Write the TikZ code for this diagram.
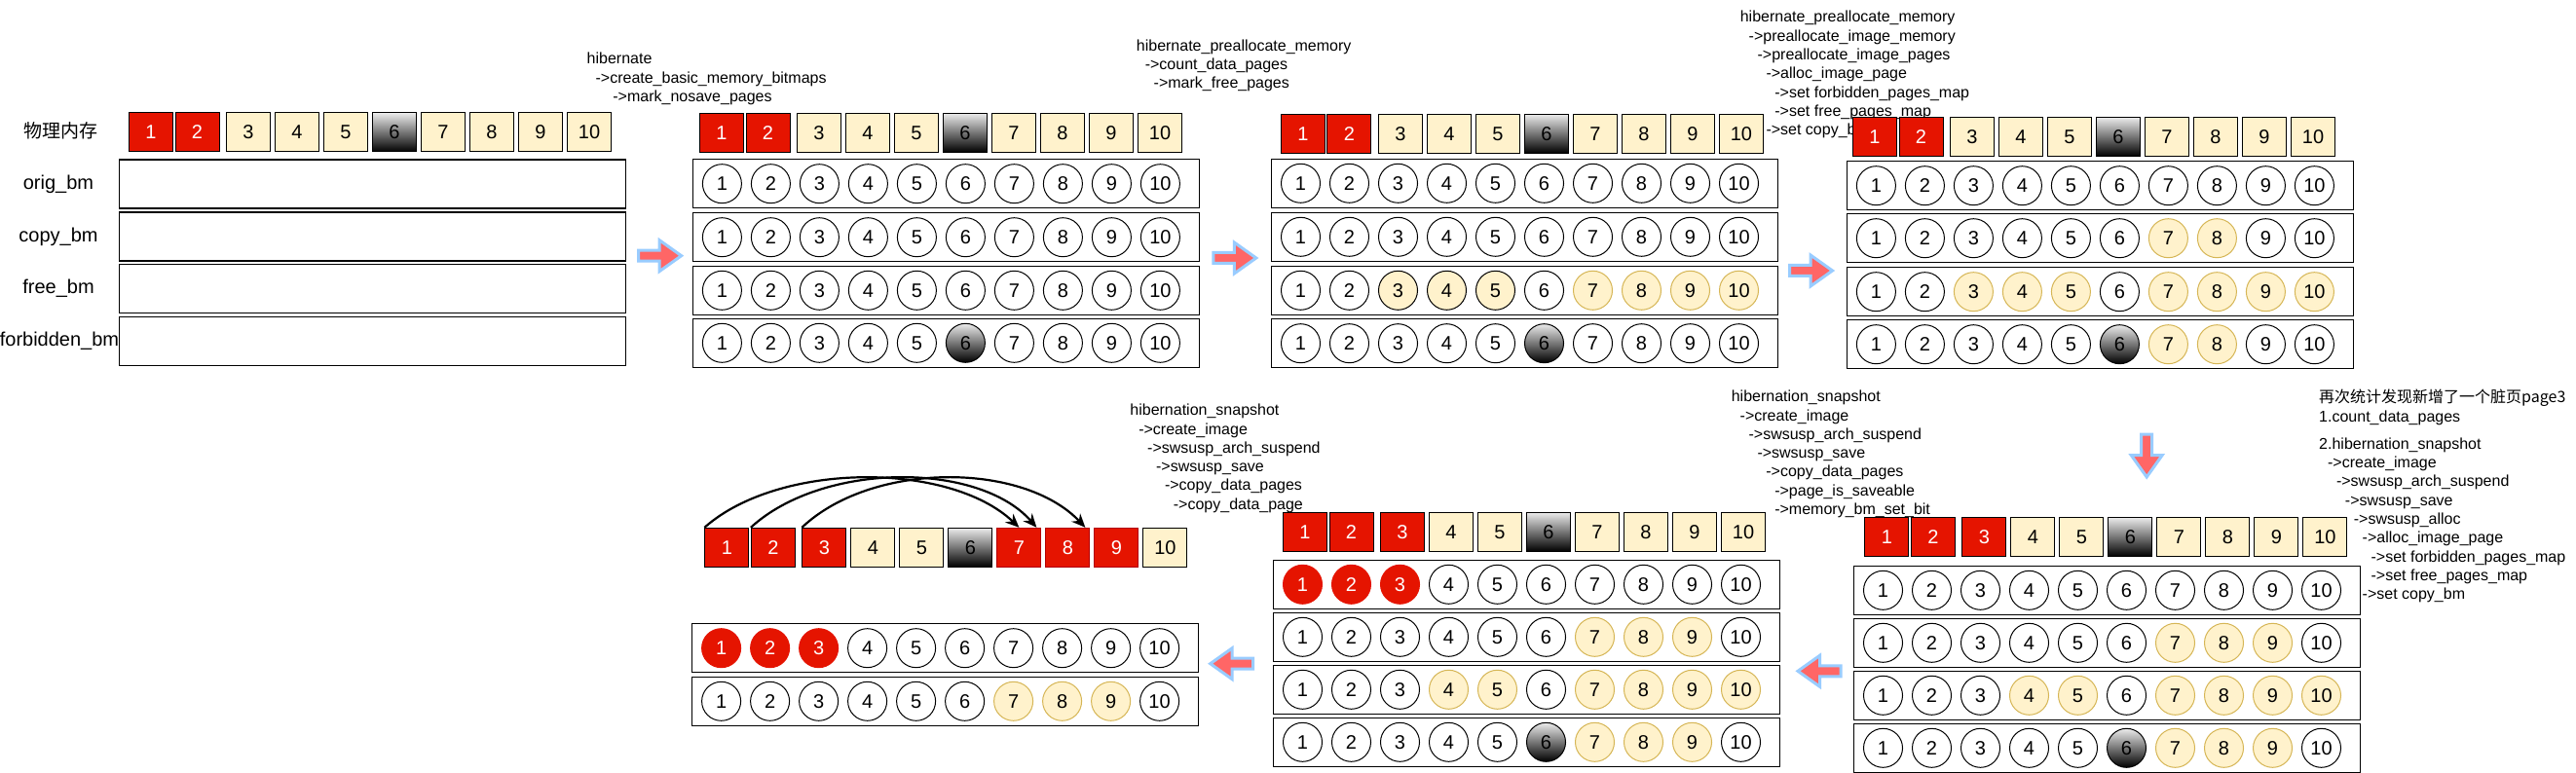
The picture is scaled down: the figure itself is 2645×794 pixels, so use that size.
\documentclass[tikz,border=0pt]{standalone}
\usepackage{fontspec}
\setmainfont{Liberation Sans}
\newfontfamily\cjk{Noto Sans CJK SC}
\usetikzlibrary{arrows.meta}

\definecolor{pagered}{HTML}{E51400}
\definecolor{pagereddark}{HTML}{B20000}
\definecolor{pageyellow}{HTML}{FFF2CC}
\definecolor{pagegold}{HTML}{D6B656}
\definecolor{flowfill}{HTML}{FF6666}
\definecolor{flowline}{HTML}{99CCFF}

\tikzset{
  big/.style={font=\fontsize{20}{24}\selectfont},
  fn/.style={font=\fontsize{16}{19.3}\selectfont, align=left, anchor=north west, inner sep=0pt},
  mem/.style={draw, line width=1pt, minimum width=45pt, minimum height=40pt, inner sep=0pt, big},
  mem-y/.style={mem, fill=pageyellow},
  mem-r/.style={mem, fill=pagered, text=white},
  mem-R/.style={mem, fill=pagered, draw=pagereddark, text=white},
  mem-d/.style={mem, top color=white!92!black, bottom color=black},
  memkind/.style={mem-#1},
  pg/.style={circle, draw, line width=1pt, minimum size=40pt, inner sep=0pt, big},
  pg-w/.style={pg, fill=white},
  pg-y/.style={pg, fill=pageyellow, draw=pagegold},
  pg-k/.style={pg, fill=pageyellow},
  pg-r/.style={pg, fill=pagered, draw=pagered, text=white},
  pg-d/.style={pg, top color=white!92!black, bottom color=black},
  pgkind/.style={pg-#1},
  bm/.style={draw, line width=1.2pt},
  flow/.style={fill=flowfill, draw=flowline, line width=3pt},
  copyarc/.style={line width=2.2pt, -{Stealth[length=14pt,width=12pt]}},
}

% indent by n spaces
\newcommand{\ind}[1]{\hspace*{#1\dimexpr 4.45pt\relax}}

% row of physical pages: prefix, x of page 1, y, kinds
\newcommand{\memrow}[4]{%
  \foreach \s [count=\i] in {#4} {
    \pgfmathsetmacro{\bx}{#2+50*(\i-1)-(\i==2)*2.5}
    \node[memkind/.expanded=\s] (#1-\i) at (\bx,#3) {\i};
  }}

% one bitmap: prefix, left x, top y, kinds
\newcommand{\bmrow}[4]{%
  \draw[bm] (#2,#3) rectangle ++(520,50);
  \foreach \s [count=\i] in {#4}
    \node[pgkind/.expanded=\s] (#1-\i) at ({#2+30+50*(\i-1)},{#3+25}) {\i};
}

% fat arrow between steps: x, y, angle
\newcommand{\flowarrow}[3]{%
  \draw[flow, shift={(#1,#2)}, rotate=#3] (-22,-5.5) -- (-0.5,-5.5) -- (-0.5,-16) -- (22,0)
    -- (-0.5,16) -- (-0.5,5.5) -- (-22,5.5) -- cycle;}

\begin{document}
\begin{tikzpicture}[x=1pt,y=-1pt]
  \fill[white] (0,0) rectangle (2645,794);
  \useasboundingbox (0,0) rectangle (2645,794);

  % Step 0: empty bitmaps
  \node[font=\cjk\fontsize{19}{23}\selectfont] (lbl-mem) at (62,134) {物理内存};
  \node[big] (lbl-orig) at (60,189) {orig\_bm};
  \node[big] (lbl-copy) at (60,243) {copy\_bm};
  \node[big] (lbl-free) at (60,296.5) {free\_bm};
  \node[big] (lbl-forb) at (61,350.5) {forbidden\_bm};
  \memrow{p0}{155}{136}{r,r,y,y,y,d,y,y,y,y}
  \foreach \t in {164,218,271.5,325.5}
    \draw[bm] (122.5,\t) rectangle ++(520,50);

  % Step 1
  \node[fn] (t1) at (602.5,54) {hibernate\\
    \ind{2}->create\_basic\_memory\_bitmaps\\
    \ind{6}->mark\_nosave\_pages};
  \memrow{p1}{741}{136.3}{r,r,y,y,y,d,y,y,y,y}
  \bmrow{p1o}{711.4}{163.7}{w,w,w,w,w,w,w,w,w,w}
  \bmrow{p1c}{711.4}{218.7}{w,w,w,w,w,w,w,w,w,w}
  \bmrow{p1f}{711.4}{273.3}{w,w,w,w,w,w,w,w,w,w}
  \bmrow{p1x}{711.4}{327.3}{w,w,w,w,w,d,w,w,w,w}

  % Step 2
  \node[fn] (t2) at (1166.7,40.6) {hibernate\_preallocate\_memory\\
    \ind{2}->count\_data\_pages\\
    \ind{4}->mark\_free\_pages};
  \memrow{p2}{1337.9}{137.3}{r,r,y,y,y,d,y,y,y,y}
  \bmrow{p2o}{1305.5}{163.3}{w,w,w,w,w,w,w,w,w,w}
  \bmrow{p2c}{1305.5}{218.3}{w,w,w,w,w,w,w,w,w,w}
  \bmrow{p2f}{1305.5}{273.3}{w,w,k,k,k,w,y,y,y,y}
  \bmrow{p2x}{1305.5}{327.7}{w,w,w,w,w,d,w,w,w,w}

  % Step 3
  \node[fn] (t3) at (1786.6,11.2) {hibernate\_preallocate\_memory\\
    \ind{2}->preallocate\_image\_memory\\
    \ind{4}->preallocate\_image\_pages\\
    \ind{6}->alloc\_image\_page\\
    \ind{8}->set forbidden\_pages\_map\\
    \ind{8}->set free\_pages\_map\\
    \ind{6}->set copy\_bm};
  \memrow{p3}{1925}{140.5}{r,r,y,y,y,d,y,y,y,y}
  \bmrow{p3o}{1896.4}{165.7}{w,w,w,w,w,w,w,w,w,w}
  \bmrow{p3c}{1896.4}{219.7}{w,w,w,w,w,w,y,y,w,w}
  \bmrow{p3f}{1896.4}{274.7}{w,w,y,y,y,w,y,y,y,y}
  \bmrow{p3x}{1896.4}{328.7}{w,w,w,w,w,d,y,y,w,w}

  % Step 4: page 3 got dirty
  \node[fn] (t4) at (2381,400) {{\cjk 再次统计发现新增了一个脏页page3}\\
    1.count\_data\_pages\\[9pt]
    2.hibernation\_snapshot\\
    \ind{2}->create\_image\\
    \ind{4}->swsusp\_arch\_suspend\\
    \ind{6}->swsusp\_save\\
    \ind{8}->swsusp\_alloc\\
    \ind{10}->alloc\_image\_page\\
    \ind{12}->set forbidden\_pages\_map\\
    \ind{12}->set free\_pages\_map\\
    \ind{10}->set copy\_bm};
  \memrow{p4}{1937.4}{551.5}{r,r,r,y,y,d,y,y,y,y}
  \bmrow{p4o}{1903.5}{581.3}{w,w,w,w,w,w,w,w,w,w}
  \bmrow{p4c}{1903.5}{635.3}{w,w,w,w,w,w,y,y,y,w}
  \bmrow{p4f}{1903.5}{689.3}{w,w,w,y,y,w,y,y,y,y}
  \bmrow{p4x}{1903.5}{743.3}{w,w,w,w,w,d,y,y,y,w}

  % Step 5
  \node[fn] (t5) at (1777.6,401) {hibernation\_snapshot\\
    \ind{2}->create\_image\\
    \ind{4}->swsusp\_arch\_suspend\\
    \ind{6}->swsusp\_save\\
    \ind{8}->copy\_data\_pages\\
    \ind{10}->page\_is\_saveable\\
    \ind{10}->memory\_bm\_set\_bit};
  \memrow{p5}{1340}{546.3}{r,r,r,y,y,d,y,y,y,y}
  \bmrow{p5o}{1307.5}{575.3}{r,r,r,w,w,w,w,w,w,w}
  \bmrow{p5c}{1307.5}{629.3}{w,w,w,w,w,w,y,y,y,w}
  \bmrow{p5f}{1307.5}{683.3}{w,w,w,y,y,w,y,y,y,y}
  \bmrow{p5x}{1307.5}{737.3}{w,w,w,w,w,d,y,y,y,w}

  % Step 6: copy pages
  \node[fn] (t6) at (1160.2,415) {hibernation\_snapshot\\
    \ind{2}->create\_image\\
    \ind{4}->swsusp\_arch\_suspend\\
    \ind{6}->swsusp\_save\\
    \ind{8}->copy\_data\_pages\\
    \ind{10}->copy\_data\_page};
  \memrow{p6}{746.4}{562.3}{r,r,r,y,y,d,R,R,R,y}
  \bmrow{p6o}{710.6}{640.7}{r,r,r,w,w,w,w,w,w,w}
  \bmrow{p6c}{710.6}{695.3}{w,w,w,w,w,w,y,y,y,w}
  \draw[copyarc] (p6-1.north west) .. controls (800,474) and (975,474) .. (p6-7.north);
  \draw[copyarc] (p6-2.north west) .. controls (845,474) and (1005,474) .. ([xshift=-5pt]p6-7.north east);
  \draw[copyarc] (p6-3.north west) .. controls (895,474) and (1050,474) .. ([xshift=-5pt]p6-8.north east);

  % Arrows between steps
  \flowarrow{677.6}{262.7}{0}
  \flowarrow{1267.8}{265}{0}
  \flowarrow{1859.5}{278}{0}
  \flowarrow{2204.2}{468}{-90}
  \flowarrow{1868}{689.3}{180}
  \flowarrow{1264.7}{681.7}{180}
\end{tikzpicture}
\end{document}
